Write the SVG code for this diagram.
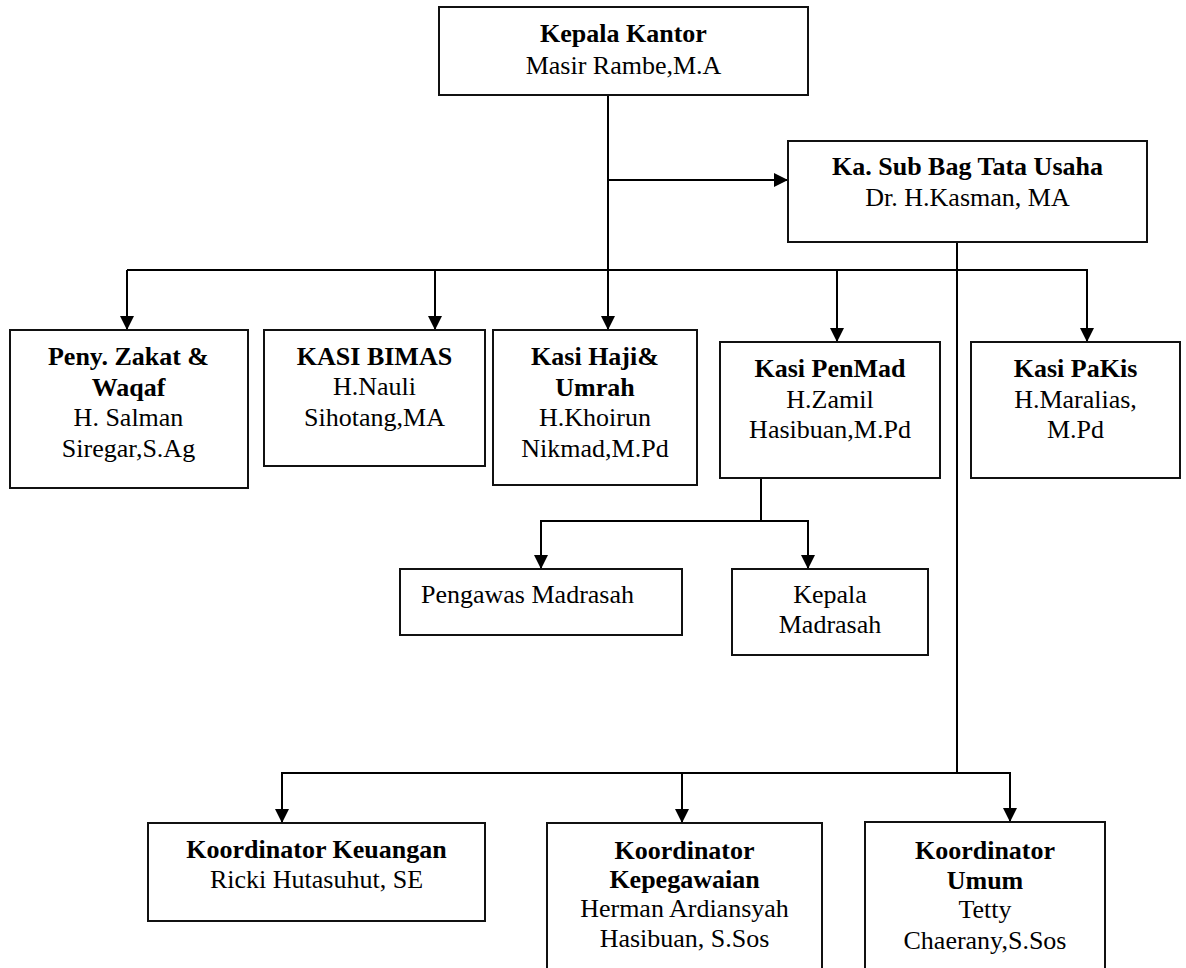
<svg xmlns="http://www.w3.org/2000/svg" width="1186" height="968" viewBox="0 0 1186 968">
<defs>
<marker id="arr" markerUnits="userSpaceOnUse" markerWidth="14" markerHeight="14" viewBox="0 0 14 14" refX="14" refY="7" orient="auto">
<path d="M0,0 L14,7 L0,14 z" fill="#000"/>
</marker>
<style>
rect.box{fill:#fff;stroke:#111;stroke-width:2}
text{font-family:"Liberation Serif","Times New Roman",serif;font-size:26px;fill:#000;text-anchor:middle}
text .b{font-weight:bold}
.c line,.c polyline{stroke:#000;stroke-width:2;fill:none}
.c .a{marker-end:url(#arr)}
</style>
</defs>
<rect width="1186" height="968" fill="#fff"/>
<g class="c" id="connectors">
<line x1="608" y1="95" x2="608" y2="330" class="a"/>
<line x1="608" y1="180" x2="788" y2="180" class="a"/>
<line x1="127" y1="270" x2="1087" y2="270"/>
<line x1="127" y1="270" x2="127" y2="330" class="a"/>
<line x1="435" y1="270" x2="435" y2="330" class="a"/>
<line x1="837" y1="270" x2="837" y2="342" class="a"/>
<line x1="1087" y1="269" x2="1087" y2="342" class="a"/>
<line x1="957" y1="242" x2="957" y2="774"/>
<line x1="761" y1="478" x2="761" y2="521"/>
<line x1="541" y1="521" x2="808" y2="521"/>
<line x1="541" y1="520" x2="541" y2="569" class="a"/>
<line x1="808" y1="520" x2="808" y2="569" class="a"/>
<line x1="282" y1="773" x2="1010" y2="773"/>
<line x1="282" y1="772" x2="282" y2="823" class="a"/>
<line x1="682" y1="773" x2="682" y2="823" class="a"/>
<line x1="1010" y1="772" x2="1010" y2="822" class="a"/>
</g>
<g id="kepala-kantor">
<rect class="box" x="439" y="7" width="369" height="88"/>
<text x="623.5" y="42"><tspan class="b">Kepala Kantor</tspan></text>
<text x="623.5" y="74">Masir Rambe,M.A</text>
</g>
<g id="ka-sub-bag">
<rect class="box" x="788" y="141" width="359" height="101"/>
<text x="967.5" y="175"><tspan class="b">Ka. Sub Bag Tata Usaha</tspan></text>
<text x="967.5" y="206">Dr. H.Kasman, MA</text>
</g>
<g id="zakat">
<rect class="box" x="10" y="330" width="238" height="158"/>
<text x="128.5" y="365"><tspan class="b">Peny. Zakat &amp;</tspan></text>
<text x="128.5" y="396"><tspan class="b">Waqaf</tspan></text>
<text x="128.5" y="426">H. Salman</text>
<text x="128.5" y="457">Siregar,S.Ag</text>
</g>
<g id="bimas">
<rect class="box" x="264" y="330" width="221" height="136"/>
<text x="374.5" y="365"><tspan class="b">KASI BIMAS</tspan></text>
<text x="374.5" y="395">H.Nauli</text>
<text x="374.5" y="426">Sihotang,MA</text>
</g>
<g id="haji">
<rect class="box" x="493" y="330" width="204" height="155"/>
<text x="595" y="365"><tspan class="b">Kasi Haji&amp;</tspan></text>
<text x="595" y="396"><tspan class="b">Umrah</tspan></text>
<text x="595" y="426">H.Khoirun</text>
<text x="595" y="457">Nikmad,M.Pd</text>
</g>
<g id="penmad">
<rect class="box" x="720" y="342" width="220" height="136"/>
<text x="830" y="377"><tspan class="b">Kasi PenMad</tspan></text>
<text x="830" y="408">H.Zamil</text>
<text x="830" y="438">Hasibuan,M.Pd</text>
</g>
<g id="pakis">
<rect class="box" x="971" y="342" width="209" height="136"/>
<text x="1075.5" y="377"><tspan class="b">Kasi PaKis</tspan></text>
<text x="1075.5" y="408">H.Maralias,</text>
<text x="1075.5" y="438">M.Pd</text>
</g>
<g id="pengawas">
<rect class="box" x="400" y="569" width="282" height="66"/>
<text x="421" y="603" style="text-anchor:start">Pengawas Madrasah</text>
</g>
<g id="kepala-madrasah">
<rect class="box" x="732" y="569" width="196" height="86"/>
<text x="830" y="603">Kepala</text>
<text x="830" y="633">Madrasah</text>
</g>
<g id="keuangan">
<rect class="box" x="148" y="823" width="337" height="98"/>
<text x="316.5" y="858"><tspan class="b">Koordinator Keuangan</tspan></text>
<text x="316.5" y="888">Ricki Hutasuhut, SE</text>
</g>
<g id="kepegawaian">
<rect class="box" x="547" y="823" width="275" height="160"/>
<text x="684.5" y="859"><tspan class="b">Koordinator</tspan></text>
<text x="684.5" y="888"><tspan class="b">Kepegawaian</tspan></text>
<text x="684.5" y="917">Herman Ardiansyah</text>
<text x="684.5" y="947">Hasibuan, S.Sos</text>
</g>
<g id="umum">
<rect class="box" x="865" y="822" width="240" height="160"/>
<text x="985" y="859"><tspan class="b">Koordinator</tspan></text>
<text x="985" y="889"><tspan class="b">Umum</tspan></text>
<text x="985" y="918">Tetty</text>
<text x="985" y="949">Chaerany,S.Sos</text>
</g>
</svg>
